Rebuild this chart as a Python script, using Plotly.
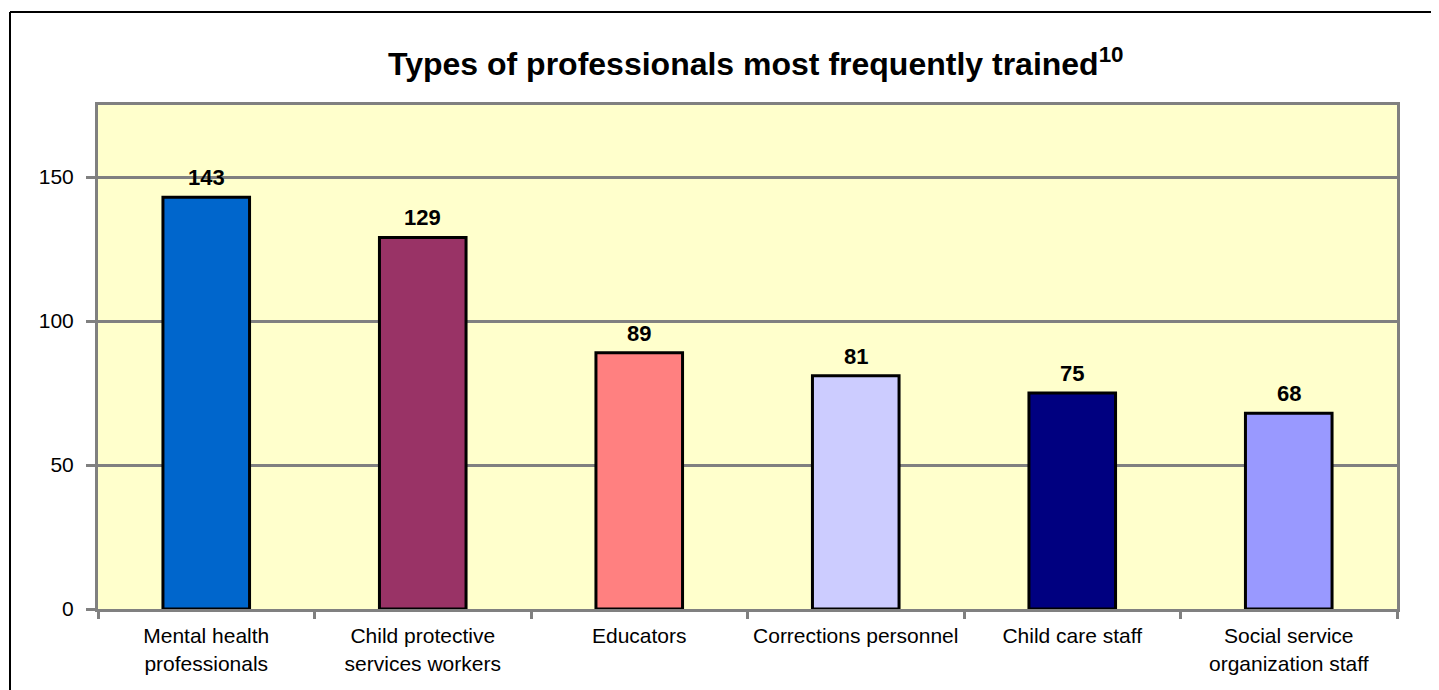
import plotly.graph_objects as go

categories = ["Mental health<br>professionals", "Child protective<br>services workers", "Educators",
              "Corrections personnel", "Child care staff", "Social service<br>organization staff"]
values = [143, 129, 89, 81, 75, 68]
colors = ["#0066CC", "#993366", "#FF8080", "#CCCCFF", "#000080", "#9999FF"]
y_ticks = [0, 50, 100, 150]
title_text = "Types of professionals most frequently trained<sup>10</sup>"

OFF = 8  # browser body margin
W, H = 1431, 682
ML, MT = 98 - OFF, 105 - OFF
MR = W + OFF - 1397
MB = H + OFF - 609
PW, PH = W - ML - MR, H - MT - MB

def px_x(p):
    return (p - OFF - ML) / PW

def px_y(p):
    return (H + OFF - MB - p) / PH

fig = go.Figure()
fig.add_trace(go.Bar(
    x=categories, y=values, width=0.4,
    marker=dict(color=colors, line=dict(color="black", width=3)),
    hoverinfo="skip",
))

for c, v in zip(categories, values):
    fig.add_annotation(x=c, y=v, xref="x", yref="y", text=f"<b>{v}</b>", showarrow=False,
                       yanchor="bottom", yshift=5,
                       font=dict(family="Arial, Liberation Sans", size=22, color="black"))

fig.add_annotation(x=px_x(756), y=px_y(62), xref="paper", yref="paper", text=f"<b>{title_text}</b>",
                   showarrow=False, xanchor="center", yanchor="middle",
                   font=dict(family="Arial, Liberation Sans", size=32, color="black"))

# outer chart-area frame (left and top edges visible; right/bottom lie outside the picture)
fig.add_shape(type="line", xref="paper", yref="paper", x0=px_x(10), x1=px_x(10),
              y0=px_y(700), y1=px_y(12), line=dict(color="black", width=2), layer="below")
fig.add_shape(type="line", xref="paper", yref="paper", x0=px_x(10), x1=px_x(1460),
              y0=px_y(12), y1=px_y(12), line=dict(color="black", width=2), layer="below")

fig.update_layout(
    width=W, height=H,
    margin=dict(l=ML, r=MR, t=MT, b=MB),
    plot_bgcolor="#FFFFCC", paper_bgcolor="white",
    showlegend=False, bargap=0.6,
    font=dict(family="Arial, Liberation Sans", size=21, color="black"),
)
fig.update_xaxes(type="category", showline=True, linecolor="#808080", linewidth=3, mirror=True,
                 ticks="outside", tickson="boundaries", ticklen=7, tickwidth=3, tickcolor="#808080",
                 showgrid=False, tickfont=dict(size=21), ticklabelstandoff=6)
fig.update_yaxes(range=[0, 175], tickvals=y_ticks, showline=True, linecolor="#808080", linewidth=3,
                 mirror=True, ticks="outside", ticklen=9, tickwidth=3, tickcolor="#808080",
                 showgrid=True, gridcolor="#808080", gridwidth=3, zeroline=False,
                 ticklabelstandoff=8, tickfont=dict(size=21))

fig.write_html("out.html")
